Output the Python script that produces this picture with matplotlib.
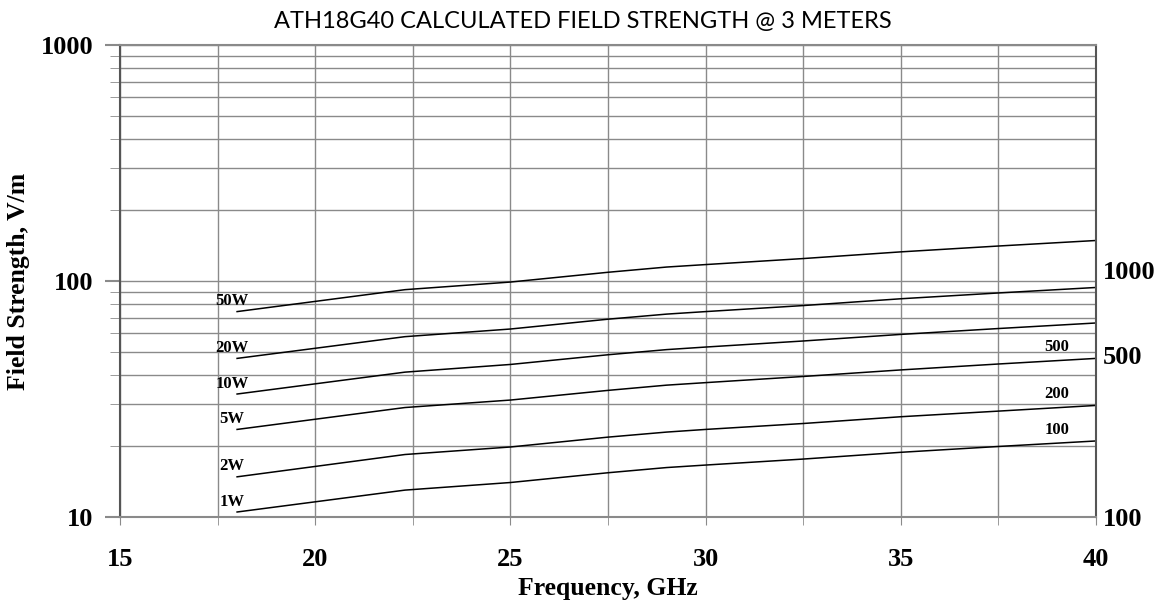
import numpy as np
import matplotlib
matplotlib.use("Agg")
import matplotlib.pyplot as plt
from matplotlib.ticker import FixedLocator, NullFormatter, LogLocator

# frequency points (GHz) where the curves change slope
freq = [18, 22.3, 25, 27.5, 29, 30, 32.5, 35, 37.5, 40]

# field strength, V/m
e_1w = [10.5, 13.0, 14.0, 15.4, 16.2, 16.6, 17.6, 18.8, 19.9, 21.0]
e_2w = [14.8, 18.4, 19.8, 21.8, 22.9, 23.5, 24.9, 26.6, 28.1, 29.7]
e_5w = [23.5, 29.1, 31.3, 34.4, 36.2, 37.1, 39.4, 42.0, 44.5, 47.0]
e_10w = [33.2, 41.1, 44.3, 48.7, 51.2, 52.5, 55.7, 59.4, 62.9, 66.4]
e_20w = [47.0, 58.1, 62.6, 68.9, 72.4, 74.2, 78.7, 84.1, 89.0, 93.9]
e_50w = [74.2, 91.9, 99.0, 108.9, 114.6, 117.4, 124.5, 132.9, 140.7, 148.5]

series = [e_1w, e_2w, e_5w, e_10w, e_20w, e_50w]
left_labels = ["1W", "2W", "5W", "10W", "20W", "50W"]
right_labels = ["100", "200", "500"]

x_ticks = [15, 20, 25, 30, 35, 40]
right_tick_vals = [10, 48.5, 111]
right_tick_text = ["100", "500", "1000"]

serif = "Liberation Serif"
grid_c = "#8a8a8a"

fig = plt.figure(figsize=(11.59, 6.02), dpi=100)
ax = fig.add_axes([0.1035, 0.1412, 0.8422, 0.784])

for e in series:
    ax.plot(freq, e, color="black", lw=1.1)

ax.set_yscale("log")
ax.set_xlim(15, 40)
ax.set_ylim(10, 1000)

ax.xaxis.set_major_locator(FixedLocator(x_ticks))
ax.xaxis.set_minor_locator(FixedLocator(np.arange(17.5, 40, 5)))
ax.yaxis.set_minor_locator(LogLocator(base=10, subs=np.arange(2, 10), numticks=20))
ax.yaxis.set_minor_formatter(NullFormatter())
ax.set_yticks([10, 100, 1000])
ax.set_yticklabels(["10", "100", "1000"])

ax.grid(which="both", axis="both", color=grid_c, lw=1.0)
ax.set_axisbelow(True)

ax.tick_params(axis="x", which="both", direction="out", length=6, color=grid_c, pad=16)
ax.tick_params(axis="y", which="major", direction="out", length=11, color=grid_c, width=1.5, pad=8)
ax.tick_params(axis="y", which="minor", direction="out", length=7, color=grid_c)
for lab in ax.get_xticklabels() + ax.get_yticklabels():
    lab.set_fontfamily(serif)
    lab.set_fontweight("bold")
    lab.set_fontsize(19)

for side in ["top", "bottom"]:
    ax.spines[side].set_color(grid_c)
    ax.spines[side].set_linewidth(1.5)
ax.spines["left"].set_color("#555555")
ax.spines["right"].set_color("#555555")
ax.spines["left"].set_linewidth(1.5)
ax.spines["right"].set_linewidth(1.5)

ax2 = ax.twinx()
ax2.set_yscale("log")
ax2.set_ylim(10, 1000)
ax2.set_yticks(right_tick_vals)
ax2.set_yticklabels(right_tick_text)
ax2.yaxis.set_minor_locator(FixedLocator([]))
ax2.tick_params(axis="y", length=0, pad=5)
for lab in ax2.get_yticklabels():
    lab.set_fontfamily(serif)
    lab.set_fontweight("bold")
    lab.set_fontsize(19)
for s in ax2.spines.values():
    s.set_visible(False)

# power labels at the start and end of the curves
for e, t in zip(series, left_labels):
    ax.annotate(t, (freq[0], e[0]), xytext=(-3.5, 7.5), textcoords="offset points",
                ha="center", va="center", fontfamily=serif, fontweight="bold", fontsize=12)
for e, t in zip(series[:3], right_labels):
    ax.annotate(t, (freq[-1], e[-1]), xytext=(-28, 8), textcoords="offset points",
                ha="center", va="center", fontfamily=serif, fontweight="bold", fontsize=12)

ax.set_xlabel("Frequency, GHz", fontfamily=serif, fontweight="bold", fontsize=18.5, labelpad=5)
ax.set_ylabel("Field Strength, V/m", fontfamily=serif, fontweight="bold", fontsize=18.5)
ax.yaxis.set_label_coords(-0.092, 0.5)

fig.text(0.503, 0.965, "ATH18G40 CALCULATED FIELD STRENGTH @ 3 METERS",
         ha="center", va="center", fontfamily="Lato", fontsize=17)

fig.savefig("out.png", dpi=100)
